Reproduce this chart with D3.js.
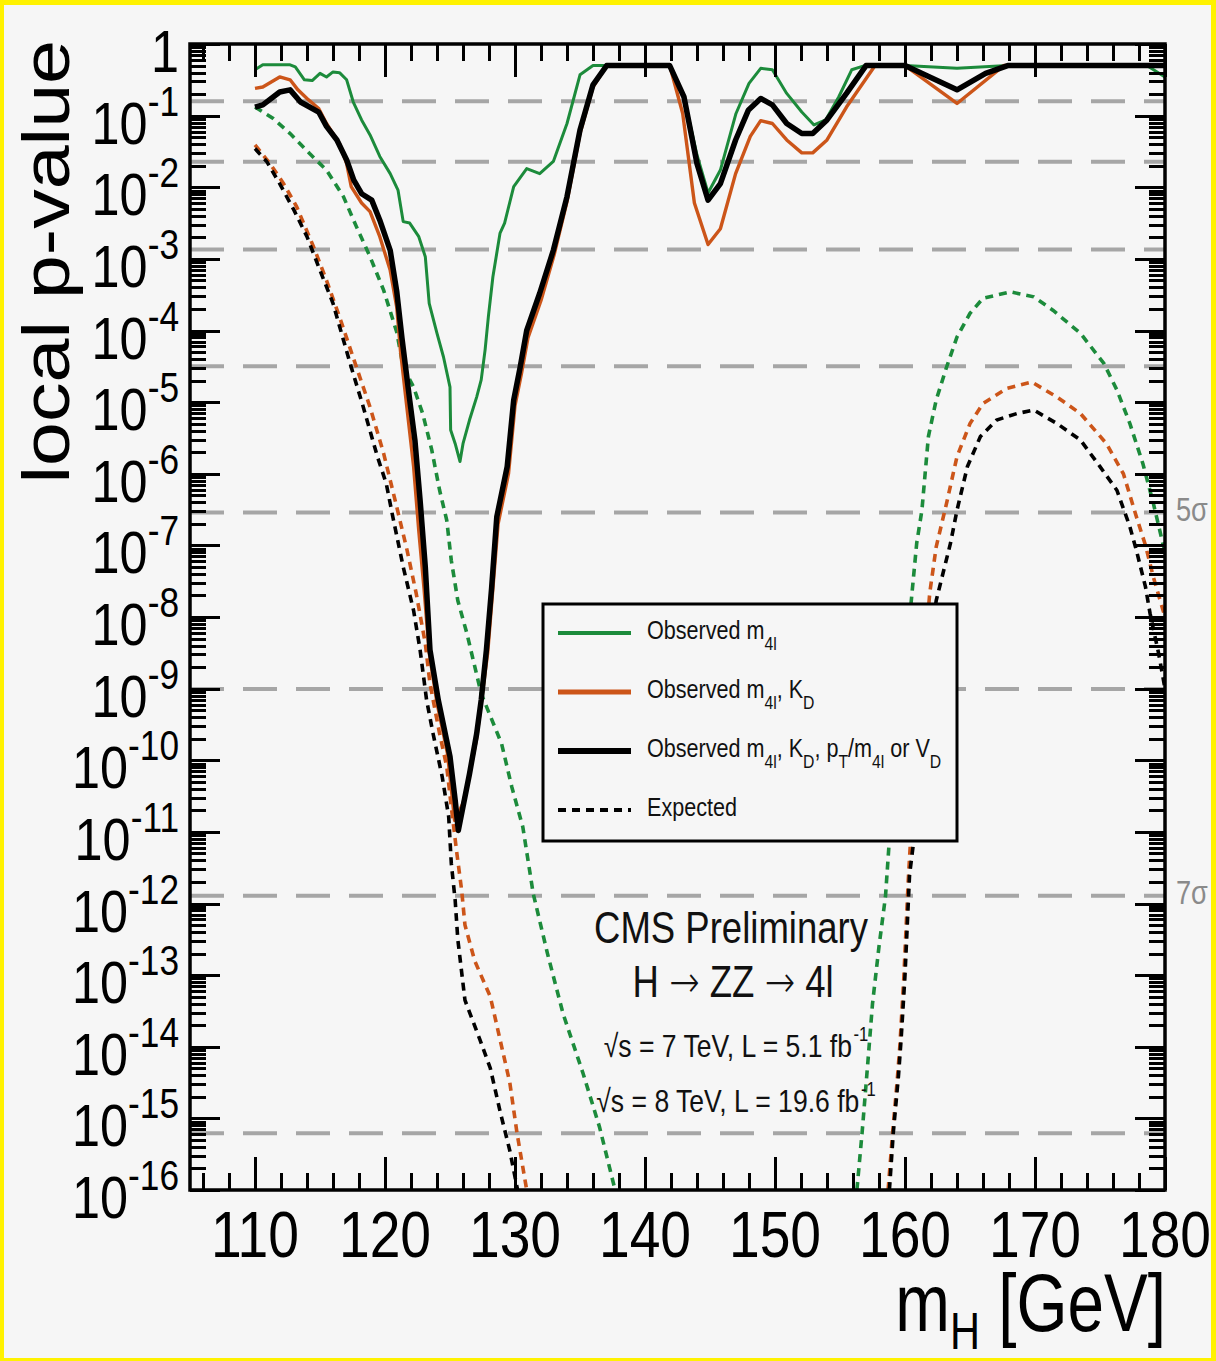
<!DOCTYPE html>
<html>
<head>
<meta charset="utf-8">
<script src="https://cdn.jsdelivr.net/npm/d3@7"></script>
<style>
  html, body { margin: 0; padding: 0; background: #f6f6f6; }
  svg { display: block; }
  text { font-family: "Liberation Sans", Arial, Helvetica, sans-serif; }
</style>
</head>
<body>
<svg id="chart" width="1216" height="1361"></svg>
<script>
// ---- data: [m_H in GeV, log10(local p-value)] ----
const massRange = [105, 180];
const massTicksMajor = [110, 120, 130, 140, 150, 160, 170, 180];

// Observed, m4l only
const obsM4l = [[110,-0.36],[110.6,-0.29],[112.7,-0.29],[113.1,-0.32],[113.8,-0.50],[114.4,-0.51],[115.0,-0.41],[115.5,-0.46],[116.0,-0.39],[116.5,-0.40],[117.05,-0.50],[117.56,-0.81],[118.2,-1.06],[118.85,-1.27],[119.6,-1.57],[120.4,-1.81],[121.0,-2.04],[121.4,-2.48],[121.9,-2.50],[122.6,-2.69],[123.1,-2.97],[123.4,-3.62],[124.0,-4.04],[124.5,-4.37],[125.0,-4.79],[125.05,-5.39],[125.4,-5.58],[125.77,-5.83],[126.0,-5.58],[126.5,-5.25],[127.05,-4.93],[127.4,-4.69],[127.7,-4.27],[127.95,-3.81],[128.3,-3.25],[128.85,-2.64],[129.2,-2.50],[129.9,-1.99],[130.9,-1.74],[131.9,-1.81],[132.95,-1.64],[134.0,-1.11],[135.0,-0.43],[136.0,-0.30],[136.8,-0.301],[141.9,-0.301],[143.0,-0.74],[144.0,-1.55],[144.85,-2.08],[145.8,-1.76],[147.0,-0.97],[148.0,-0.55],[148.9,-0.34],[149.8,-0.36],[150.9,-0.69],[152.06,-0.95],[153.0,-1.13],[153.9,-1.06],[154.9,-0.74],[155.9,-0.36],[156.9,-0.301],[160.0,-0.301],[164.0,-0.34],[167.9,-0.301],[178.6,-0.301],[180,-0.46]];

// Observed, m4l + KD
const obsM4lKD = [[110,-0.62],[110.6,-0.60],[111.9,-0.46],[112.7,-0.50],[113.3,-0.64],[114.0,-0.76],[114.9,-0.90],[115.5,-1.11],[116.5,-1.39],[117.05,-1.67],[117.4,-1.99],[118.2,-2.22],[118.85,-2.34],[119.6,-2.69],[120.4,-3.16],[120.9,-3.67],[121.2,-4.3],[121.7,-5.1],[122.2,-5.9],[122.6,-6.8],[123.0,-7.6],[123.4,-8.5],[124.0,-9.2],[124.8,-9.9],[125.1,-10.4],[125.35,-10.84],[125.6,-10.75],[126.0,-10.6],[126.5,-10.2],[127.05,-9.7],[127.4,-9.2],[127.9,-8.5],[128.3,-7.6],[128.7,-6.7],[129.5,-6.0],[130.0,-5.05],[130.5,-4.6],[131.0,-4.1],[132.0,-3.58],[133.0,-2.95],[134.0,-2.2],[135.0,-1.25],[136.0,-0.6],[137.05,-0.301],[141.9,-0.301],[142.9,-0.97],[143.8,-2.22],[144.85,-2.8],[145.8,-2.58],[146.97,-1.81],[148.1,-1.29],[148.9,-1.07],[149.8,-1.11],[150.9,-1.34],[152.06,-1.52],[152.9,-1.52],[154.0,-1.34],[155.5,-0.88],[157.7,-0.301],[160.0,-0.301],[164.0,-0.83],[167.6,-0.301],[180,-0.301]];

// Observed, m4l + KD + pT/m4l or VD
const obsFull = [[110,-0.88],[110.6,-0.85],[111.9,-0.67],[112.7,-0.64],[113.5,-0.81],[114.2,-0.88],[114.9,-0.95],[115.5,-1.15],[116.3,-1.34],[117.05,-1.62],[117.6,-1.90],[118.2,-2.09],[118.98,-2.18],[119.6,-2.46],[120.4,-2.88],[120.9,-3.45],[121.3,-4.1],[121.9,-4.97],[122.3,-5.53],[122.7,-6.37],[123.1,-7.3],[123.46,-8.46],[124.1,-9.16],[125.0,-9.95],[125.4,-10.56],[125.64,-10.98],[126.0,-10.65],[126.5,-10.19],[127.05,-9.63],[127.4,-9.16],[127.8,-8.46],[128.2,-7.6],[128.6,-6.60],[129.4,-5.90],[129.9,-4.97],[130.4,-4.51],[130.9,-4.0],[131.9,-3.48],[132.95,-2.88],[134.0,-2.13],[135.0,-1.20],[136.0,-0.57],[137.05,-0.301],[141.9,-0.301],[143.0,-0.74],[144.0,-1.67],[144.85,-2.18],[145.8,-1.95],[146.97,-1.34],[147.96,-0.92],[148.9,-0.76],[149.8,-0.85],[150.9,-1.11],[152.06,-1.25],[152.9,-1.25],[154.0,-1.06],[155.5,-0.69],[157.0,-0.301],[160.0,-0.301],[164.0,-0.64],[166.2,-0.41],[167.9,-0.301],[180,-0.301]];

// Expected (each drawn in two pieces, left and right of the excluded range)
const expM4lLow = [[110,-0.88],[111.4,-1.04],[112.7,-1.25],[114.2,-1.53],[115.5,-1.76],[116.8,-2.13],[117.8,-2.55],[118.85,-2.97],[119.9,-3.44],[120.9,-4.02],[121.4,-4.51],[122.2,-4.79],[122.9,-5.16],[123.6,-5.67],[124.2,-6.23],[124.75,-6.65],[125.1,-7.21],[125.6,-7.77],[126.3,-8.23],[127.4,-9.07],[128.97,-9.77],[129.75,-10.37],[130.6,-10.93],[131.4,-11.86],[132.5,-12.7],[133.7,-13.54],[135.25,-14.38],[136.5,-15.12],[137.7,-16]];
const expM4lHigh = [[156.3,-16],[156.7,-15.2],[157.15,-14.2],[157.5,-13.4],[158.0,-12.6],[158.5,-11.9],[158.8,-11.1],[159.6,-9.4],[160.5,-7.74],[160.9,-6.97],[161.3,-6.51],[161.8,-5.48],[162.4,-4.97],[163.2,-4.51],[164.0,-4.09],[165.0,-3.76],[166.0,-3.55],[168.1,-3.46],[169.9,-3.53],[171.4,-3.72],[173.5,-4.04],[175.3,-4.46],[176.3,-4.83],[177.3,-5.30],[178.3,-5.86],[179.1,-6.41],[180,-7.1]];

const expM4lKDLow = [[110,-1.41],[111.15,-1.67],[112.2,-1.95],[113.2,-2.27],[114.5,-2.83],[115.5,-3.30],[116.5,-3.81],[117.8,-4.51],[118.85,-5.07],[119.9,-5.72],[120.9,-6.46],[121.7,-7.07],[122.4,-7.67],[123.1,-8.37],[123.46,-8.93],[124.2,-9.63],[124.75,-10.09],[125.1,-10.65],[125.5,-11.26],[125.9,-11.82],[126.15,-12.3],[126.9,-12.8],[128.1,-13.3],[128.85,-13.9],[129.6,-14.5],[130.15,-15.2],[130.9,-16]];
const expM4lKDHigh = [[158.7,-16],[159.05,-15.2],[159.4,-14.47],[159.6,-14.0],[159.9,-13.07],[160.25,-11.68],[160.4,-11.2],[160.9,-10.0],[161.4,-8.8],[161.9,-7.67],[162.4,-7.02],[163.2,-6.41],[164.0,-5.76],[165.0,-5.30],[166.0,-5.02],[167.8,-4.81],[169.75,-4.72],[171.7,-4.93],[173.5,-5.16],[175.5,-5.58],[176.8,-6.0],[177.8,-6.6],[178.5,-7.0],[179.1,-7.44],[180,-8.0]];

const expFullLow = [[110,-1.46],[110.9,-1.64],[111.9,-1.95],[113.0,-2.32],[114.0,-2.69],[115.0,-3.16],[116.0,-3.62],[117.3,-4.45],[118.3,-5.05],[119.4,-5.75],[120.1,-6.14],[120.6,-6.60],[121.4,-7.30],[122.2,-7.91],[122.7,-8.46],[123.2,-9.16],[123.7,-9.63],[124.4,-10.23],[124.9,-10.79],[125.1,-11.44],[125.4,-11.96],[125.6,-12.5],[126.15,-13.35],[127.3,-13.9],[128.1,-14.3],[128.85,-14.9],[129.6,-15.45],[130.2,-16]];
const expFullHigh = [[158.8,-16],[159.1,-15.2],[159.5,-14.4],[159.7,-13.9],[160.0,-13.0],[160.35,-11.6],[160.65,-11.16],[161.2,-9.9],[161.8,-8.6],[162.4,-7.77],[163.5,-6.97],[164.0,-6.51],[164.8,-5.9],[165.8,-5.48],[167.05,-5.25],[168.6,-5.16],[169.9,-5.11],[171.7,-5.30],[173.5,-5.53],[175.0,-5.9],[176.3,-6.23],[177.3,-6.74],[177.8,-7.07],[178.5,-7.58],[178.85,-7.95],[179.5,-8.5],[180,-9.0]];

// one-sided p-values of 1..8 sigma
const sigmaP = [1.587e-1, 2.275e-2, 1.350e-3, 3.167e-5, 2.867e-7, 9.866e-10, 1.280e-12, 6.221e-16];
const sigmaLabels = [{ n: 5, text: "5σ" }, { n: 7, text: "7σ" }];

const legendItems = [
  { key: "m4l",   parts: [["Observed m",""],["4l","sub"]] },
  { key: "kd",    parts: [["Observed m",""],["4l","sub"],[", K",""],["D","sub"]] },
  { key: "full",  parts: [["Observed m",""],["4l","sub"],[", K",""],["D","sub"],[", p",""],["T","sub"],["/m",""],["4l","sub"],[" or V",""],["D","sub"]] },
  { key: "exp",   parts: [["Expected",""]] }
];

// ---- styles ----
const GREEN = "#1c8b3b", ORANGE = "#cc5519", BLACK = "#000";
const BG = "#f6f6f6", GRID = "#a6a6a6";
const SX = 0.84; // horizontal squeeze of all lettering

// ---- layout ----
const W = 1216, H = 1361;
const P = { left: 190, right: 1165, top: 44, bottom: 1190 };

const svg = d3.select("#chart");

// frame: yellow border and light background
svg.append("rect").attr("width", W).attr("height", H).attr("fill", "#fff200");
svg.append("rect").attr("x", 4).attr("y", 5).attr("width", W - 9).attr("height", H - 8).attr("fill", BG);

const x = d3.scaleLinear().domain(massRange).range([P.left, P.right]);
const y = d3.scaleLog().domain([1e-16, 1]).range([P.bottom, P.top]);
const toP = e => Math.pow(10, e);

svg.append("clipPath").attr("id", "plotclip")
  .append("rect").attr("x", P.left).attr("y", P.top)
  .attr("width", P.right - P.left).attr("height", P.bottom - P.top);

// sigma reference lines
svg.append("g").selectAll("line").data(sigmaP).join("line")
  .attr("x1", P.left).attr("x2", P.right)
  .attr("y1", d => y(d)).attr("y2", d => y(d))
  .attr("stroke", GRID).attr("stroke-width", 4).attr("stroke-dasharray", "34,19");

svg.append("g").selectAll("text").data(sigmaLabels).join("text")
  .attr("transform", d => `translate(1176,${y(sigmaP[d.n - 1]) + 8}) scale(0.8,1)`)
  .attr("font-size", 34).attr("fill", "#8a8a8a").text(d => d.text);

// curves
const line = d3.line().x(d => x(d[0])).y(d => y(toP(d[1])));
const curves = svg.append("g").attr("clip-path", "url(#plotclip)");

const dotted = [
  [expM4lLow, GREEN], [expM4lHigh, GREEN],
  [expM4lKDLow, ORANGE], [expM4lKDHigh, ORANGE],
  [expFullLow, BLACK], [expFullHigh, BLACK]
];
dotted.forEach(([d, c]) => {
  curves.append("path").datum(d).attr("d", line)
    .attr("fill", "none").attr("stroke", c).attr("stroke-width", 3.6)
    .attr("stroke-dasharray", "8,6");
});

const solid = [[obsM4l, GREEN, 3], [obsM4lKD, ORANGE, 3.4], [obsFull, BLACK, 5.5]];
solid.forEach(([d, c, w]) => {
  curves.append("path").datum(d).attr("d", line)
    .attr("fill", "none").attr("stroke", c).attr("stroke-width", w)
    .attr("stroke-linejoin", "round");
});

// axes: ticks drawn inward on all four sides
const majorY = d3.range(-16, 1).map(toP);
const minorY = [];
for (let k = -16; k < 0; k++) for (let m = 2; m <= 9; m++) minorY.push(m * Math.pow(10, k));
const minorX = d3.range(106, 180, 2).filter(v => v % 10 !== 0);

function tickGroup(axis, tx, ty) {
  const g = svg.append("g").attr("transform", `translate(${tx},${ty})`).call(axis);
  g.select(".domain").remove();
  g.selectAll(".tick line").attr("stroke", "#000").attr("stroke-width", 3)
    .attr("shape-rendering", "crispEdges");
  g.selectAll(".tick text").remove();
  return g;
}
tickGroup(d3.axisRight(y).tickValues(majorY).tickSize(30).tickFormat(""), P.left, 0);
tickGroup(d3.axisRight(y).tickValues(minorY).tickSize(16).tickFormat(""), P.left, 0);
tickGroup(d3.axisLeft(y).tickValues(majorY).tickSize(30).tickFormat(""), P.right, 0);
tickGroup(d3.axisLeft(y).tickValues(minorY).tickSize(16).tickFormat(""), P.right, 0);
tickGroup(d3.axisTop(x).tickValues(massTicksMajor).tickSize(33).tickFormat(""), 0, P.bottom);
tickGroup(d3.axisTop(x).tickValues(minorX).tickSize(17).tickFormat(""), 0, P.bottom);
tickGroup(d3.axisBottom(x).tickValues(massTicksMajor).tickSize(33).tickFormat(""), 0, P.top);
tickGroup(d3.axisBottom(x).tickValues(minorX).tickSize(17).tickFormat(""), 0, P.top);

svg.append("rect").attr("x", P.left).attr("y", P.top)
  .attr("width", P.right - P.left).attr("height", P.bottom - P.top)
  .attr("fill", "none").attr("stroke", "#000").attr("stroke-width", 3.5);

// y tick labels: 1, 10^-1 ... 10^-16
const yLab = svg.append("g");
d3.range(0, -17, -1).forEach(k => {
  const t = yLab.append("text")
    .attr("transform", `translate(179,${y(toP(k)) + 28}) scale(${SX},1)`)
    .attr("text-anchor", "end").attr("font-size", 60);
  if (k === 0) { t.text("1"); return; }
  t.append("tspan").text("10");
  t.append("tspan").attr("font-size", 42).attr("dy", -28).text(String(k));
});

// x tick labels
svg.append("g").selectAll("text").data(massTicksMajor).join("text")
  .attr("transform", d => `translate(${x(d)},1257) scale(0.85,1)`)
  .attr("text-anchor", "middle").attr("font-size", 65).text(d => d);

// axis titles
svg.append("text")
  .attr("transform", `translate(69,40) scale(0.84,1) rotate(-90)`)
  .attr("text-anchor", "end").attr("font-size", 79).text("local p-value");

const xt = svg.append("text")
  .attr("transform", `translate(1166,1331) scale(0.8,1)`)
  .attr("text-anchor", "end").attr("font-size", 82);
xt.append("tspan").text("m");
xt.append("tspan").attr("font-size", 52).attr("dy", 18).text("H");
xt.append("tspan").attr("dy", -18).text(" [GeV]");

// legend
const lg = svg.append("g");
lg.append("rect").attr("x", 543).attr("y", 604).attr("width", 414).attr("height", 237)
  .attr("fill", BG).attr("stroke", "#000").attr("stroke-width", 3);
const legStyle = {
  m4l: { c: GREEN, w: 4, dash: null },
  kd: { c: ORANGE, w: 5, dash: null },
  full: { c: BLACK, w: 6, dash: null },
  exp: { c: BLACK, w: 4, dash: "8,6" }
};
legendItems.forEach((it, i) => {
  const cy = 633 + i * 59;
  const s = legStyle[it.key];
  lg.append("line").attr("x1", 558).attr("x2", 631).attr("y1", cy).attr("y2", cy)
    .attr("stroke", s.c).attr("stroke-width", s.w).attr("stroke-dasharray", s.dash);
  const t = lg.append("text")
    .attr("transform", `translate(647,${cy + 6}) scale(0.83,1)`)
    .attr("font-size", 26).attr("fill", "#111");
  let low = false;
  it.parts.forEach(([str, kind]) => {
    const sp = t.append("tspan").text(str);
    if (kind === "sub" && !low) { sp.attr("dy", 11).attr("font-size", 19); low = true; }
    else if (kind === "sub") { sp.attr("font-size", 19); }
    else if (low) { sp.attr("dy", -11); low = false; }
  });
});

// annotation block
const ann = svg.append("g").attr("fill", "#111");
ann.append("text").attr("transform", "translate(731,943) scale(0.83,1)")
  .attr("text-anchor", "middle").attr("font-size", 44).text("CMS Preliminary");
const decay = ann.append("text").attr("transform", "translate(733,997) scale(0.83,1)")
  .attr("text-anchor", "middle").attr("font-size", 44);
decay.append("tspan").text("H ");
decay.append("tspan").attr("font-family", "DejaVu Sans").attr("font-weight", 200).text("→");
decay.append("tspan").text(" ZZ ");
decay.append("tspan").attr("font-family", "DejaVu Sans").attr("font-weight", 200).text("→");
decay.append("tspan").text(" 4l");
const l1 = ann.append("text").attr("transform", "translate(736,1057) scale(0.83,1)")
  .attr("text-anchor", "middle").attr("font-size", 32);
l1.append("tspan").text("√s = 7 TeV, L = 5.1 fb");
l1.append("tspan").attr("font-size", 20).attr("dy", -16).attr("dx", 2).text("-1");
const l2 = ann.append("text").attr("transform", "translate(736,1112) scale(0.83,1)")
  .attr("text-anchor", "middle").attr("font-size", 32);
l2.append("tspan").text("√s = 8 TeV, L = 19.6 fb");
l2.append("tspan").attr("font-size", 20).attr("dy", -16).attr("dx", 2).text("-1");
</script>
</body>
</html>
